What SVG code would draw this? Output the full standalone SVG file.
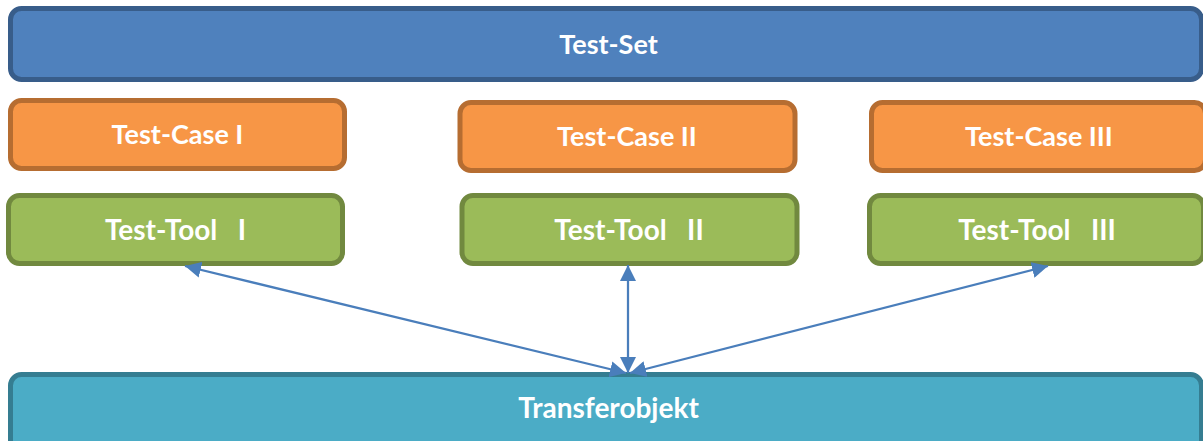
<svg xmlns="http://www.w3.org/2000/svg" width="1203" height="441" viewBox="0 0 1203 441">
<style>
.box{stroke-width:5}
.blue{fill:#4f81bd;stroke:#385d8a}
.orange{fill:#f79646;stroke:#b66d31}
.green{fill:#9bbb59;stroke:#71893f}
.teal{fill:#4bacc6;stroke:#357d91}
text{font-family:"Lato","Carlito","Open Sans",sans-serif;font-weight:700;font-size:27px;fill:#fff;text-anchor:middle;white-space:pre}
.w{font-size:28px}
.c{stroke:#4a7ebb;stroke-width:2.25;fill:none;marker-start:url(#a);marker-end:url(#a)}
</style>
<defs><marker id="a" markerUnits="userSpaceOnUse" viewBox="0 0 16 16" refX="16" refY="8" markerWidth="16" markerHeight="16" orient="auto-start-reverse"><path d="M0 0L16 8L0 16Z" fill="#4a7ebb"/></marker></defs>
<g id="test-set"><rect class="box blue" x="10.5" y="8.5" width="1191" height="71" rx="11"/><text x="608.5" y="54">Test-Set</text></g>
<g id="case-1"><rect class="box orange" x="10.5" y="100.5" width="334" height="68" rx="11"/><text x="177.5" y="144">Test-Case I</text></g>
<g id="case-2"><rect class="box orange" x="460" y="102.5" width="335" height="68" rx="11"/><text x="627" y="146">Test-Case II</text></g>
<g id="case-3"><rect class="box orange" x="871.5" y="102.5" width="334" height="68" rx="11"/><text x="1039" y="146">Test-Case III</text></g>
<g id="tool-1"><rect class="box green" x="8.5" y="195.5" width="334" height="68" rx="11"/><text class="w" x="175.5" y="240" xml:space="preserve">Test-Tool   I</text></g>
<g id="tool-2"><rect class="box green" x="462" y="195.5" width="335" height="68" rx="11"/><text class="w" x="629" y="240" xml:space="preserve">Test-Tool   II</text></g>
<g id="tool-3"><rect class="box green" x="869.5" y="195.5" width="334" height="68" rx="11"/><text class="w" x="1037" y="240" xml:space="preserve">Test-Tool   III</text></g>
<g id="transferobjekt"><rect class="box teal" x="10.5" y="374.5" width="1191" height="80" rx="11"/><text class="w" x="608.5" y="418">Transferobjekt</text></g>
<g id="connectors">
<line class="c" x1="185" y1="266" x2="626" y2="373"/>
<line class="c" x1="628" y1="265" x2="628" y2="373"/>
<line class="c" x1="1048" y1="266" x2="630" y2="373"/>
</g>
</svg>
